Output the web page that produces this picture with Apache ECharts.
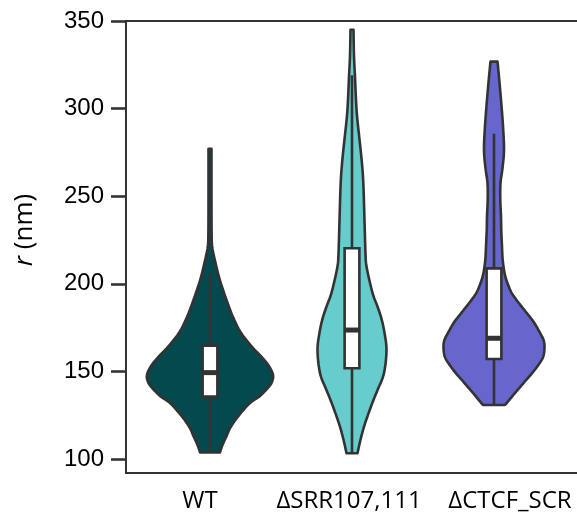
<!DOCTYPE html>
<html><head><meta charset="utf-8">
<script src="https://cdn.jsdelivr.net/npm/echarts@6/dist/echarts.min.js"></script>
<style>html,body{margin:0;padding:0;background:#fff}#c{width:577px;height:519px}</style>
</head><body><div id="c"></div>
<script>
const categories = ['WT', 'ΔSRR107,111', 'ΔCTCF_SCR'];
const yTicks = [100, 150, 200, 250, 300, 350];

// Violin outlines: r values (nm) and the matching density half-widths
const wtR = [277, 250, 230, 222, 217, 212, 206, 200, 190, 181, 172, 164, 158, 153, 148, 144, 141, 136, 132, 127, 122, 117, 113, 108, 103.8];
const wtD = [1.5, 1.5, 1.6, 2, 3.5, 5.5, 8, 11, 17, 23, 31, 42, 52, 59, 63, 62, 58.5, 50, 40, 32, 25, 19.5, 16.5, 12.5, 10];

const srrR = [345, 330, 318, 305, 296, 285, 274.5, 265, 255, 236, 217, 210, 200.5, 193, 187, 180, 172, 162, 149, 140, 133.7, 126, 118.4, 111, 103.3];
const srrD = [1.5, 2, 3, 4, 5, 7, 9, 10.5, 11.5, 12.5, 13.5, 14.5, 18, 21.5, 25.5, 29.5, 32.5, 34.5, 32, 26, 21.5, 16.5, 12, 8.5, 5.5];

const ctcfR = [326.8, 318, 305, 290, 276.4, 266, 257.4, 248, 238.3, 230, 221.2, 215, 209.8, 205, 200.3, 195, 190.8, 186, 181, 177.5, 172, 168, 164.1, 159, 155, 148.9, 145, 141.3, 137, 133.5, 130.8];
const ctcfD = [3.5, 5, 7, 9, 10, 8.5, 6.5, 6.3, 7, 7.3, 8, 8.5, 9.5, 11, 13.5, 17.5, 22.5, 29, 36, 40.5, 46, 49.5, 50.5, 49.5, 46, 38, 32, 26.5, 20, 15, 11];

// Box statistics
const q1 = [135.6, 151.8, 157.1];
const medians = [149.3, 173.6, 168.9];
const q3 = [164.7, 220.3, 208.8];
const whiskerLow = [103.8, 103.3, 130.8];
const whiskerHigh = [206, 319, 285.7];

const fills = ['#04494d', '#66cdcc', '#6666cc'];
const violinR = [wtR, srrR, ctcfR];
const violinD = [wtD, srrD, ctcfD];
const DENS = 1 / 142;      // density units -> category units
const BOX_HALF = 0.052;    // box half width in category units
const LINE = '#333333';
const LABEL_FONT = '"Open Sans", "Noto Sans", sans-serif';
const labelStyles = ['c0', 'c1', 'c2'];

// Catmull-Rom resampling of a pixel-space outline, for a smooth drawn edge
function spline(p, steps) {
  const out = [];
  for (let k = 0; k < p.length - 1; k++) {
    const p0 = p[Math.max(k - 1, 0)], p1 = p[k], p2 = p[k + 1], p3 = p[Math.min(k + 2, p.length - 1)];
    for (let s = 0; s < steps; s++) {
      const t = s / steps, t2 = t * t, t3 = t2 * t;
      const f = (a, b, c, d) => 0.5 * ((2 * b) + (-a + c) * t + (2 * a - 5 * b + 4 * c - d) * t2 + (-a + 3 * b - 3 * c + d) * t3);
      out.push([f(p0[0], p1[0], p2[0], p3[0]), f(p0[1], p1[1], p2[1], p3[1])]);
    }
  }
  out.push(p[p.length - 1]);
  return out;
}

function renderViolin(params, api) {
  const i = api.value(0);
  const rs = violinR[i], ds = violinD[i];
  const right = [], left = [];
  for (let k = 0; k < rs.length; k++) {
    right.push(api.coord([i + ds[k] * DENS, rs[k]]));
    left.push(api.coord([i - ds[k] * DENS, rs[k]]));
  }
  const pts = spline(right, 8).concat(spline(left, 8).reverse());
  const wTop = api.coord([i, whiskerHigh[i]]);
  const wBot = api.coord([i, whiskerLow[i]]);
  const bTL = api.coord([i - BOX_HALF, q3[i]]);
  const bBR = api.coord([i + BOX_HALF, q1[i]]);
  const mL = api.coord([i - BOX_HALF, medians[i]]);
  const mR = api.coord([i + BOX_HALF, medians[i]]);
  return {
    type: 'group',
    children: [
      { type: 'polygon', shape: { points: pts },
        style: { fill: fills[i], stroke: LINE, lineWidth: 2.6, lineJoin: 'round' } },
      { type: 'line', shape: { x1: wTop[0], y1: wTop[1], x2: wBot[0], y2: wBot[1] },
        style: { stroke: LINE, lineWidth: 2.6 } },
      { type: 'rect', shape: { x: bTL[0], y: bTL[1], width: bBR[0] - bTL[0], height: bBR[1] - bTL[1] },
        style: { fill: '#ffffff', stroke: LINE, lineWidth: 2.6 } },
      { type: 'line', shape: { x1: mL[0], y1: mL[1], x2: mR[0], y2: mR[1] },
        style: { stroke: LINE, lineWidth: 5 } }
    ]
  };
}

const labelRich = {
  c0: { fontSize: 24, fontFamily: LABEL_FONT, color: '#000', padding: [0, 20, 0, 0] },
  c1: { fontSize: 24, fontFamily: LABEL_FONT, color: '#000', padding: [0, 6, 0, 0] },
  c2: { fontSize: 24, fontFamily: LABEL_FONT, color: '#000', padding: [0, 0, 0, 32] }
};

const chart = echarts.init(document.getElementById('c'), null, { renderer: 'canvas' });
chart.setOption({
  animation: false,
  backgroundColor: '#ffffff',
  grid: {
    left: 126, top: 21, right: -2.2, bottom: 46,
    show: true, borderColor: LINE, borderWidth: 2,
    containLabel: false, outerBoundsMode: 'none'
  },
  xAxis: {
    type: 'value', min: -0.5915, max: 2.6,
    splitLine: { show: false },
    axisLine: { show: true, onZero: false, lineStyle: { color: LINE, width: 2 } },
    axisTick: { show: false },
    axisLabel: {
      customValues: [0, 1, 2],
      formatter: v => {
        const k = Math.round(v);
        return categories[k] ? '{' + labelStyles[k] + '|' + categories[k] + '}' : '';
      },
      color: '#000', fontSize: 24, fontFamily: LABEL_FONT, margin: 16,
      rich: labelRich
    }
  },
  yAxis: {
    type: 'value', min: 92, max: 350,
    splitLine: { show: false },
    axisLine: { show: true, onZero: false, lineStyle: { color: LINE, width: 2 } },
    axisTick: { show: true, customValues: yTicks, length: 15, lineStyle: { color: LINE, width: 2.6 } },
    axisLabel: {
      customValues: yTicks, color: '#000', fontSize: 24,
      fontFamily: '"Liberation Sans", Arial, sans-serif', margin: 22
    },
    name: '{it|r} (nm)',
    nameLocation: 'middle', nameRotate: 90, nameGap: 88,
    nameTextStyle: {
      color: '#000', fontSize: 26, fontFamily: LABEL_FONT, padding: [0, 0, 0, 34],
      rich: { it: { fontStyle: 'italic', fontSize: 26, fontFamily: LABEL_FONT, color: '#000' } }
    }
  },
  series: [{
    type: 'custom',
    renderItem: renderViolin,
    encode: { x: 0, y: 1 },
    data: [[0, medians[0]], [1, medians[1]], [2, medians[2]]],
    silent: true
  }]
});
</script>
</body></html>
